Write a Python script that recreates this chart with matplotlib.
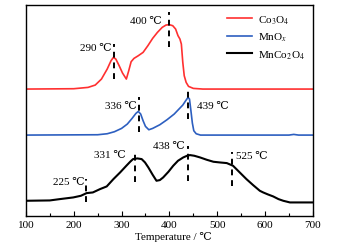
import matplotlib
matplotlib.use("Agg")
import matplotlib.pyplot as plt

plt.rcParams['font.family'] = ['Liberation Serif', 'DejaVu Serif']
plt.rcParams['mathtext.fontset'] = 'stix'

# Co3O4 (red)
co_T = [100, 200, 230, 245, 258, 270, 278, 283, 288, 295, 302, 310, 315, 320, 326, 335,
        345, 355, 365, 375, 385, 393, 400, 407, 413, 418, 422, 425, 428, 431, 435, 440,
        450, 470, 700]
co_y = [370, 371, 375, 382, 400, 430, 455, 465, 460, 440, 418, 400, 425, 452, 462, 470,
        480, 500, 522, 540, 555, 562, 563, 560, 550, 530, 520, 505, 450, 410, 390, 378,
        372, 370, 370]

# MnOx (blue)
mn_T = [100, 250, 270, 285, 300, 312, 322, 330, 335, 340, 345, 350, 357, 365, 380, 395,
        410, 420, 428, 434, 439, 442, 445, 448, 451, 456, 465, 650, 660, 670, 700]
mn_y = [232, 233, 236, 242, 252, 265, 282, 297, 303, 295, 275, 258, 248, 252, 263, 278,
        295, 310, 322, 335, 345, 340, 305, 268, 245, 236, 232, 232, 234, 232, 232]

# MnCo2O4 (black)
mc_T = [100, 150, 171, 199, 215, 227, 240, 255, 269, 283, 297, 310, 318, 324, 333, 342,
        349, 356, 365, 373, 380, 387, 398, 408, 418, 429, 437, 443, 452, 464, 478, 492,
        505, 520, 533, 547, 561, 575, 589, 596, 606, 617, 628, 638, 652, 700]
mc_y = [35, 36, 40, 45, 50, 58, 60, 70, 78, 100, 120, 140, 152, 160, 162, 160,
        150, 135, 113, 95, 97, 105, 122, 140, 155, 165, 170, 172, 170, 165, 158, 152,
        150, 148, 140, 120, 100, 82, 65, 60, 54, 48, 40, 35, 30, 30]

# peak markers: temperature, y range, label, label position, alignment
mark_T = [284, 400, 336, 439, 328, 438, 530, 225]
mark_y0 = [400, 495, 240, 280, 90, 95, 80, 30]
mark_y1 = [505, 600, 345, 365, 185, 200, 180, 100]
mark_lab = ['290 ℃', '400 ℃', '336 ℃', '439 ℃', '331 ℃', '438 ℃', '525 ℃', '225 ℃']
lab_T = [279, 384, 331, 457, 310, 433, 539, 223]
lab_y = [495, 575, 320, 320, 175, 200, 170, 92]
lab_ha = ['right', 'right', 'right', 'left', 'right', 'right', 'left', 'right']

fig = plt.figure(figsize=(3.45, 2.51), dpi=100)
ax = fig.add_axes([0.075, 0.137, 0.832, 0.839])

ax.plot(co_T, co_y, color='#ff3030', lw=1.2, label='Co$_3$O$_4$')
ax.plot(mn_T, mn_y, color='#2d5fc0', lw=1.2, label='MnO$_x$')
ax.plot(mc_T, mc_y, color='black', lw=1.5, label='MnCo$_2$O$_4$')

for t, a, b in zip(mark_T, mark_y0, mark_y1):
    ax.plot([t, t], [a, b], color='black', lw=1.4, linestyle=(0, (3, 2.5)))
for s, t, y, ha in zip(mark_lab, lab_T, lab_y, lab_ha):
    ax.text(t, y, s, ha=ha, va='center', fontsize=8)

ax.set_xlim(100, 700)
ax.set_ylim(-9.5, 622)
ax.set_xticks(range(100, 701, 100))
ax.set_xticks(range(150, 700, 100), minor=True)
ax.set_yticks([])
ax.tick_params(axis='x', which='major', direction='in', length=3.5, width=0.8,
               labelsize=8, pad=3)
ax.tick_params(axis='x', which='minor', direction='in', length=2, width=0.8)
for sp in ax.spines.values():
    sp.set_linewidth(1.0)
ax.set_xlabel('Temperature / ℃', fontsize=8, labelpad=1)
ax.xaxis.set_label_coords(0.515, -0.075)

leg = ax.legend(loc='upper right', bbox_to_anchor=(1.0, 1.0), frameon=False,
                fontsize=8, handlelength=2.3, handletextpad=0.5, labelspacing=0.45,
                borderaxespad=0.35)

fig.savefig('out.png', dpi=100)
